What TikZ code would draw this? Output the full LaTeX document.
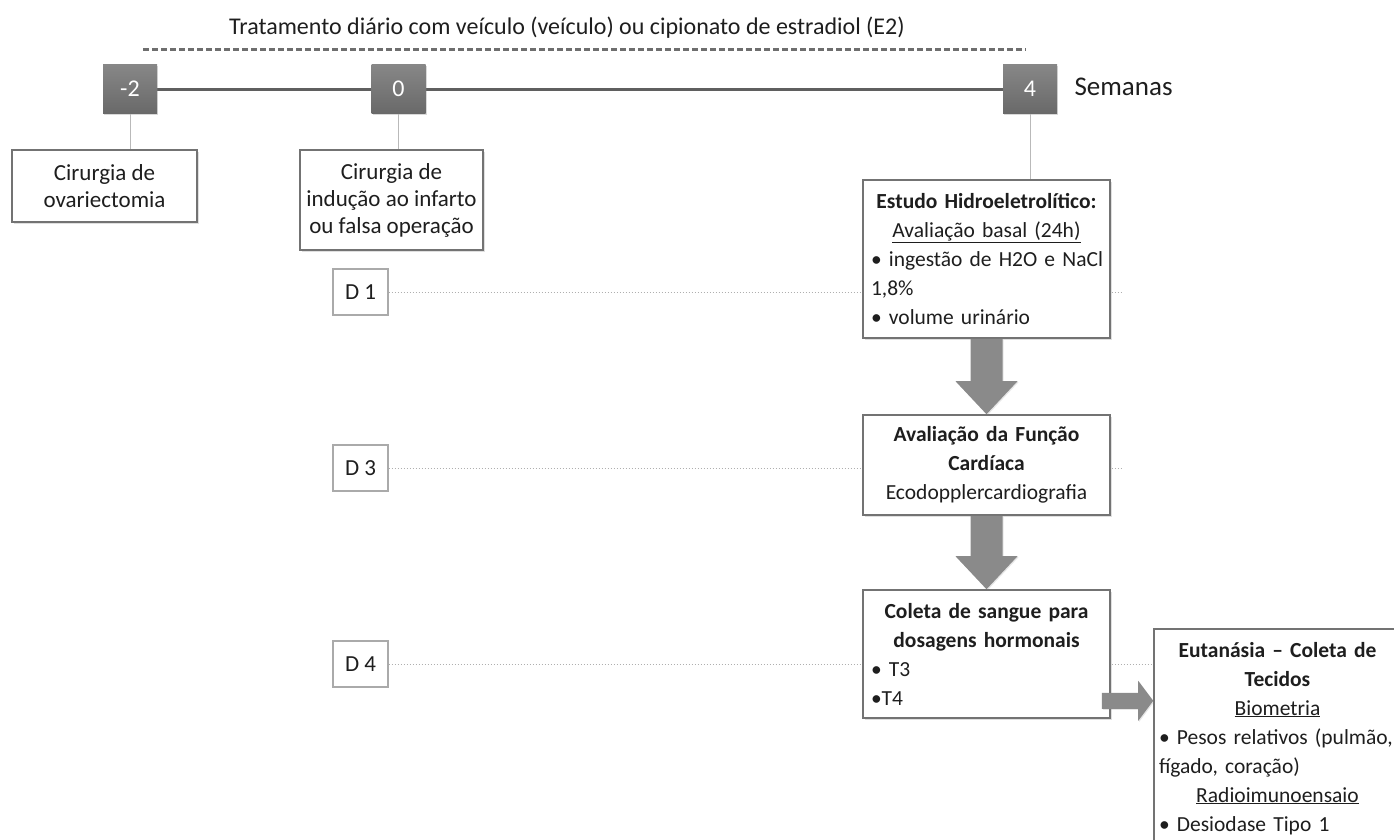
\documentclass[tikz,border=0pt]{standalone}
\usepackage{fontspec}
\setmainfont{Carlito}
\usetikzlibrary{calc,shadows}
\setlength\parindent{0pt}
\setlength\parskip{0pt}
\newcommand\Cline[1]{\makebox[\hsize][c]{#1}\par}
\newcommand\Lline[1]{\makebox[\hsize][l]{#1}\par}
\definecolor{txt}{RGB}{30,30,30}
\definecolor{tickhi}{RGB}{135,135,135}
\definecolor{ticklo}{RGB}{105,105,105}
\definecolor{tline}{RGB}{95,95,95}
\definecolor{dashc}{RGB}{110,110,110}
\definecolor{bord}{RGB}{115,115,115}
\definecolor{vline}{RGB}{185,185,185}
\definecolor{dotc}{RGB}{175,175,175}
\definecolor{dbord}{RGB}{170,170,170}
\definecolor{arrc}{RGB}{138,138,138}
\begin{document}
\begin{tikzpicture}[x=1pt,y=-1pt,
  every node/.style={text=txt},
  tick/.style={minimum width=54, minimum height=49, inner sep=0pt, text=white,
    top color=tickhi, bottom color=ticklo, font=\fontsize{24}{24}\selectfont,
    drop shadow={opacity=0.3, shadow xshift=1pt, shadow yshift=-1.5pt}},
  mainbox/.style={draw=bord, line width=1.6pt, fill=white, inner ysep=3pt,
    font=\fontsize{21.5}{29}\selectfont,
    drop shadow={opacity=0.25, shadow xshift=1.5pt, shadow yshift=-1.5pt}},
  rbox/.style={mainbox, text width=231pt, inner xsep=8pt},
  lbox/.style={mainbox, font=\fontsize{23}{27}\selectfont, align=center, inner xsep=2pt},
  dbox/.style={draw=dbord, line width=1.2pt, fill=white, minimum width=55,
    minimum height=46, inner sep=0pt, font=\fontsize{23}{23}\selectfont,
    drop shadow={opacity=0.15, shadow xshift=1pt, shadow yshift=-1pt}},
  timeline/.style={draw=tline, line width=3pt},
  dashline/.style={draw=dashc, line width=3pt, dash pattern=on 6pt off 3pt},
  vconn/.style={draw=vline, line width=1pt},
  dotline/.style={draw=dotc, line width=1pt, dotted},
  blockarrow/.style={fill=arrc, drop shadow={opacity=0.2, shadow xshift=1pt, shadow yshift=-1pt}}
]
\useasboundingbox (0,0) rectangle (1394,839);
\clip (0,0) rectangle (1394,839);

% title and dashed line
\node[font=\fontsize{24}{28}\selectfont] (title) at (567,28)
  {Tratamento diário com veículo (veículo) ou cipionato de estradiol (E2)};
\coordinate (dashL) at (143,49);
\coordinate (dashR) at (1026,49);
\draw[dashline] (dashL) -- (dashR);

% day boxes and dotted lines
\node[dbox] (d1) at (360.5,292) {D 1};
\node[dbox] (d3) at (360.5,468) {D 3};
\node[dbox] (d4) at (360.5,664) {D 4};
\coordinate (stubend) at (1123,0);
\coordinate (eutL) at (1154,0);
\draw[dotline] (d1.east) -- (d1.east -| stubend);
\draw[dotline] (d3.east) -- (d3.east -| stubend);
\draw[dotline] (d4.east) -- (d4.east -| eutL);

% week ticks and timeline
\coordinate (m2c) at (130,89);
\coordinate (t0c) at (398.5,89);
\coordinate (t4c) at (1030,89);
\draw[timeline] (m2c) -- (t4c);
\node[tick] (m2) at (m2c) {-2};
\node[tick] (t0) at (t0c) {0};
\node[tick] (t4) at (t4c) {4};
\node[anchor=west, font=\fontsize{27}{32}\selectfont] (sem) at (1071,87) {Semanas};

% left boxes
\node[lbox, minimum width=185, minimum height=72] (box1) at (104.5,186)
  {Cirurgia de\\ovariectomia};
\node[lbox, minimum width=183, minimum height=100] (box0) at (391.5,200)
  {Cirurgia de\\indução ao infarto\\ou falsa operação};

% right column boxes
\node[rbox, minimum height=158] (estudo) at (986.5,259) {%
  \Cline{\textbf{Estudo Hidroeletrolítico:}}
  \Cline{\underline{Avaliação basal (24h)}}
  \Lline{• ingestão de H2O e NaCl}
  \Lline{1,8\%}
  \Lline{• volume urinário}};

\node[rbox, minimum height=100] (aval) at (986.5,465) {%
  \Cline{\textbf{Avaliação da Função}}
  \Cline{\textbf{Cardíaca}}
  \Cline{Ecodopplercardiografia}};

\node[rbox, minimum height=128] (coleta) at (986.5,654) {%
  \Cline{\textbf{Coleta de sangue para}}
  \Cline{\textbf{dosagens hormonais}}
  \Lline{• T3}
  \Lline{•T4}};

\node[rbox, minimum height=219, anchor=north, inner xsep=5pt, text width=237pt] (eut) at (1277.5,628) {%
  \Cline{\textbf{Eutanásia – Coleta de}}
  \Cline{\textbf{Tecidos}}
  \Cline{\underline{Biometria}}
  \Lline{• Pesos relativos (pulmão,}
  \Lline{fígado, coração)}
  \Cline{\underline{Radioimunoensaio}}
  \Lline{• Desiodase Tipo 1}};

% vertical connectors
\draw[vconn] (m2.south) -- (m2.south |- box1.north);
\draw[vconn] (t0.south) -- (t0.south |- box0.north);
\draw[vconn] (t4.south) -- (t4.south |- estudo.north);

% block arrows down
\fill[blockarrow] ($(estudo.south)+(-16,0)$) -- ($(aval.north)+(-16,-33)$)
  -- ($(aval.north)+(-31,-33)$) -- (aval.north) -- ($(aval.north)+(31,-33)$)
  -- ($(aval.north)+(16,-33)$) -- ($(estudo.south)+(16,0)$) -- cycle;
\fill[blockarrow] ($(aval.south)+(-16,0)$) -- ($(coleta.north)+(-16,-33)$)
  -- ($(coleta.north)+(-31,-33)$) -- (coleta.north) -- ($(coleta.north)+(31,-33)$)
  -- ($(coleta.north)+(16,-33)$) -- ($(aval.south)+(16,0)$) -- cycle;
% block arrow right
\coordinate (rs) at ($(coleta.south east)+(-9,-18)$);
\coordinate (rt) at (eut.west |- rs);
\fill[blockarrow] ($(rs)+(0,-8)$) -- ($(rt)+(-15,-8)$) -- ($(rt)+(-15,-20)$)
  -- (rt) -- ($(rt)+(-15,20)$) -- ($(rt)+(-15,8)$) -- ($(rs)+(0,8)$) -- cycle;
\end{tikzpicture}
\end{document}
